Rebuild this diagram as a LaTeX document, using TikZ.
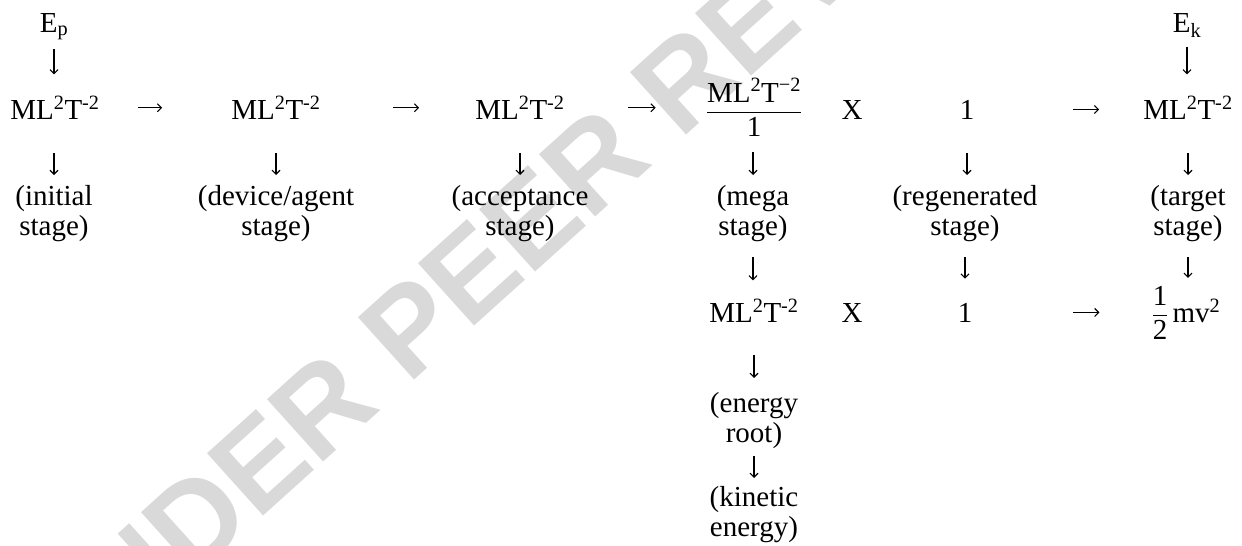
\documentclass[tikz,border=0pt]{standalone}
\usepackage{fontspec}
\usepackage{amsmath}
\setmainfont{Liberation Serif}
\newfontfamily\stampfont{Liberation Sans}
\usetikzlibrary{
    arrows.meta
}

\newcommand{\energydim}{ML\textsuperscript{2}T\textsuperscript{-2}}

\begin{document}
\begin{tikzpicture}[
    x=1pt, y=-1pt,
    every node/.style={
        inner sep=0pt,
        font=\fontsize{29}{30}\selectfont
    },
    term/.style={anchor=base},
    stagelbl/.style={anchor=north, align=center},
    flow/.style={
        draw,
        line width=1.1pt,
        -{Straight Barb[length=4pt,width=8pt]}
    },
    watermark/.style={
        text=black!15,
        font=\stampfont\bfseries\fontsize{122}{122}\selectfont
    }
]

\useasboundingbox (0,0) rectangle (1242,546);

% background stamp
\node[watermark, rotate=42] (stamp) at (522,228) {UNDER PEER REVIEW};

% top row
\node[term] (ep) at (54,32) {E\textsubscript{p}};
\node[term] (ek) at (1187,32) {E\textsubscript{k}};

\node[term] (ml1) at (55,119) {\energydim};
\node[term] (ml2) at (276,119) {\energydim};
\node[term] (ml3) at (520,119) {\energydim};
\node[term] (frac) at (754,119) {$\dfrac{\text{ML}^{\text{2}}\text{T}^{\text{−2}}}{\text{1}}$};
\node[term] (x1) at (852,119) {X};
\node[term] (one1) at (967,119) {1};
\node[term] (ml6) at (1188,119) {\energydim};

% stages
\node[stagelbl] (initial) at (54,185) {(initial\\stage)};
\node[stagelbl] (device) at (276,185) {(device/agent\\stage)};
\node[stagelbl] (accept) at (520,185) {(acceptance\\stage)};
\node[stagelbl] (mega) at (753,185) {(mega\\stage)};
\node[stagelbl] (regen) at (965,185) {(regenerated\\stage)};
\node[stagelbl] (target) at (1188,185) {(target\\stage)};

% second row
\node[term] (ml4b) at (754,322) {\energydim};
\node[term] (x2) at (852,322) {X};
\node[term] (one2) at (965,322) {1};
\node[term] (half) at (1186,322) {$\dfrac{\text{1}}{\text{2}}\,\text{mv}^{\text{2}}$};

\node[stagelbl] (root) at (754,392) {(energy\\root)};
\node[stagelbl] (kinetic) at (754,486) {(kinetic\\energy)};

% arrows
\draw[flow, shorten <=9pt, shorten >=22pt] (ep.south) -- (ep.south |- ml1.north);
\draw[flow, shorten <=9pt, shorten >=22pt] (ek.south) -- (ek.south |- ml6.north);

\draw[flow, shorten <=38pt, shorten >=69pt] (ml1.east) -- (ml1.east -| ml2.west);
\draw[flow, shorten <=72pt, shorten >=56pt] (ml2.east) -- (ml2.east -| ml3.west);
\draw[flow, shorten <=63pt, shorten >=50pt] (ml3.east) -- (ml3.east -| frac.west);
\draw[flow, shorten <=99pt, shorten >=44pt] (one1.east) -- (one1.east -| ml6.west);
\draw[flow, shorten <=101pt, shorten >=52pt] (one2.east) -- (one2.east -| half.west);

\draw[flow, shorten <=34pt, shorten >=10pt] (initial.north |- ml1.south) -- (initial.north);
\draw[flow, shorten <=34pt, shorten >=10pt] (ml2.south) -- (device.north);
\draw[flow, shorten <=34pt, shorten >=10pt] (ml3.south) -- (accept.north);
\draw[flow, shorten <=16pt, shorten >=10pt] (mega.north |- frac.south) -- (mega.north);
\draw[flow, shorten <=34pt, shorten >=10pt] (one1.south) -- (one1.south |- regen.north);
\draw[flow, shorten <=34pt, shorten >=10pt] (target.north |- ml6.south) -- (target.north);

\draw[flow, shorten <=15pt, shorten >=19pt] (mega.south) -- (mega.south |- ml4b.north);
\draw[flow, shorten <=15pt, shorten >=24pt] (regen.south) -- (regen.south |- one2.north);
\draw[flow, shorten <=15pt, shorten >=8pt] (target.south) -- (target.south |- half.north);

\draw[flow, shorten <=33pt, shorten >=14pt] (ml4b.south) -- (root.north);
\draw[flow, shorten <=7pt, shorten >=8pt] (root.south) -- (kinetic.north);

\end{tikzpicture}
\end{document}
